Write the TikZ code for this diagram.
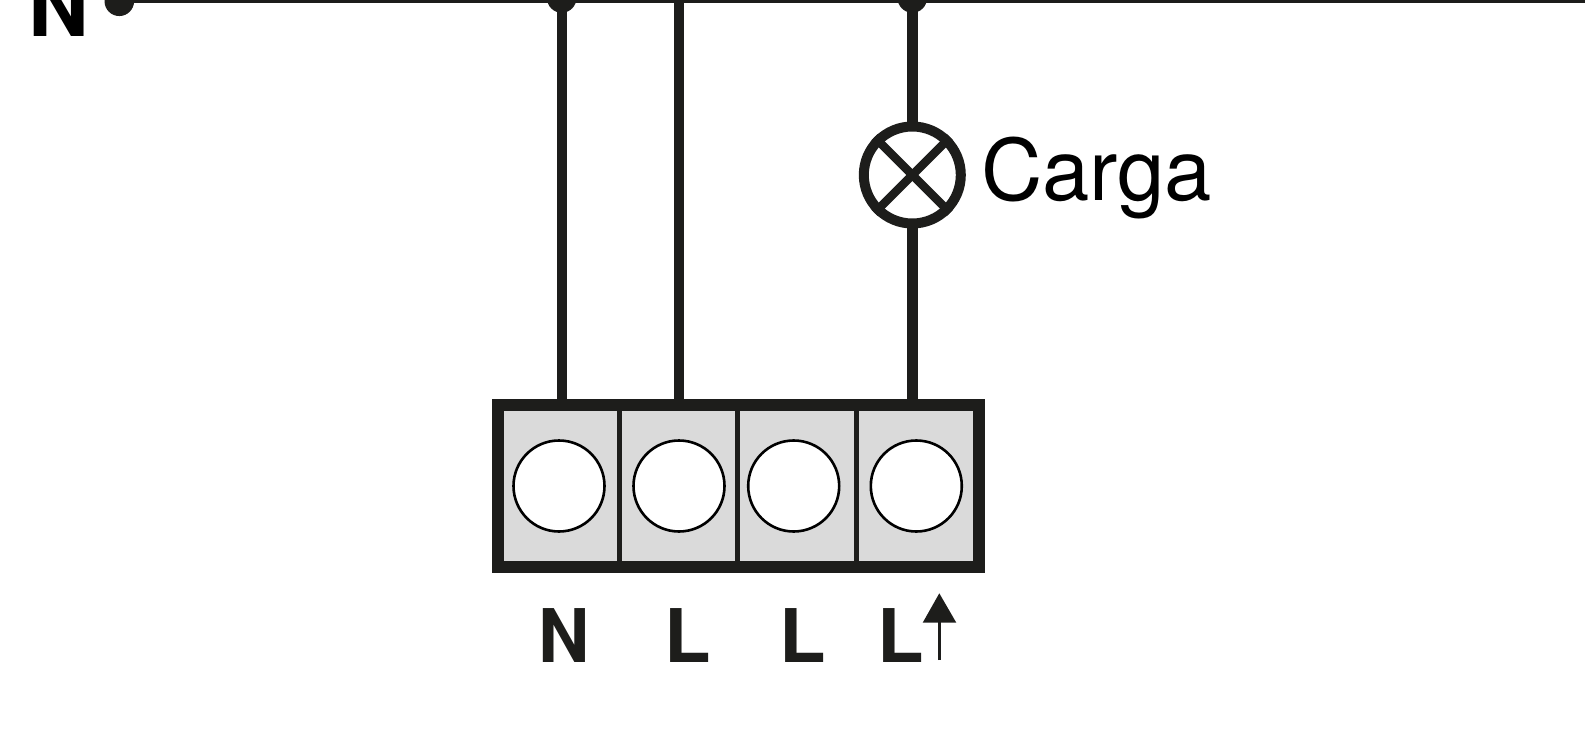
\documentclass[tikz,border=0pt]{standalone}
\usepackage{fontspec}
\setmainfont{TeX Gyre Heros}
\definecolor{ink}{HTML}{1D1D1B}
\definecolor{bay}{HTML}{DADADA}
\tikzset{
  x=1pt,y=-1pt,
  wire/.style={draw=ink,line width=10.4pt},
  bus/.style={draw=ink,line width=2.6pt},
  dot/.style={circle,fill=ink,inner sep=0pt,minimum size=29.5pt},
  hole/.style={circle,draw=black,fill=white,line width=2.6pt,inner sep=0pt,minimum size=91pt},
  lamp/.style={circle,draw=ink,line width=10pt,fill=white,inner sep=0pt,minimum size=97pt},
  term/.style={anchor=base west,inner sep=0pt,outer sep=0pt,text=ink,font=\fontsize{74}{74}\selectfont\bfseries},
}
\begin{document}
\begin{tikzpicture}
\useasboundingbox (0,0) rectangle (1585,730);
\clip (0,0) rectangle (1585,730);
\coordinate (busEnd) at (1585,1.3);
\node[dot] (dotA) at (119.3,1.3) {};
\node[dot] (dotB) at (561.7,-2) {};
\node[dot] (dotC) at (912.3,-2) {};
\coordinate (busTop) at (679,0);
\coordinate (inB) at (561.7,404);
\coordinate (inT) at (679,404);
\coordinate (inC) at (912.3,404);
\node[lamp] (load) at (912.3,175) {};
\draw[bus] (dotA.center) -- (busEnd);
\draw[wire] (dotB.center) -- (inB);
\draw[wire] (busTop) -- (inT);
\draw[wire,shorten >=-4pt] (dotC.center) -- (load.north);
\draw[wire,shorten <=-4pt] (load.south) -- (inC);
\draw[draw=ink,line width=8.5pt] (load.north west) -- (load.south east);
\draw[draw=ink,line width=8.5pt] (load.north east) -- (load.south west);
\node[anchor=base west,inner sep=0pt,text=black,font=\fontsize{85}{85}\selectfont] (label) at (981,201) {Carga};
% terminal block
\draw[draw=ink,fill=bay,line width=12pt] (497.5,404.5) rectangle (979,566.5);
\draw[draw=ink,line width=5pt] (619,404) -- (619,566);
\draw[draw=ink,line width=5pt] (737.3,404) -- (737.3,566);
\draw[draw=ink,line width=5pt] (856,404) -- (856,566);
\node[hole] (h1) at (559,486) {};
\node[hole] (h2) at (679,486) {};
\node[hole] (h3) at (793.7,486) {};
\node[hole] (h4) at (916.3,486) {};
% labels
\node[term,xscale=0.96,transform shape] (tN) at (538.3,662.4) {N};
\node[term,xscale=1.03,transform shape] (tL1) at (664,662.4) {L};
\node[term,xscale=1.03,transform shape] (tL2) at (779,662.4) {L};
\node[term,xscale=1.03,transform shape] (tL3) at (877.3,662.4) {L};
\node[term,text=black,font=\fontsize{84}{84}\selectfont\bfseries] (tTop) at (28.5,36.5) {N};
% load arrow
\coordinate (arrTail) at (939.3,660);
\coordinate (arrBase) at (939.3,622);
\draw[draw=ink,line width=3pt] (arrTail) -- (arrBase);
\fill[ink] (939.3,593.3) -- (956.3,622.7) -- (922.7,622.7) -- cycle;
\end{tikzpicture}
\end{document}
